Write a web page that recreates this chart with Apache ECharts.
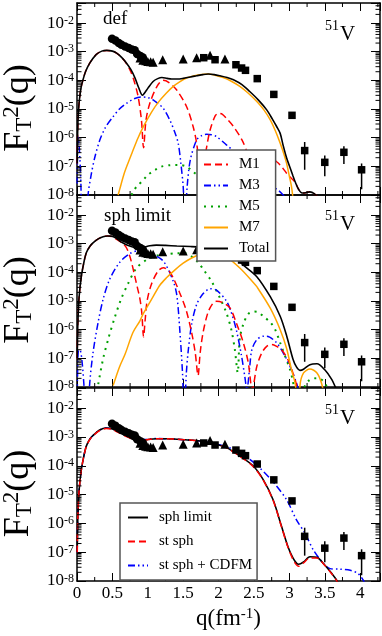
<!DOCTYPE html>
<html><head><meta charset="utf-8">
<script src="https://cdn.jsdelivr.net/npm/echarts@6/dist/echarts.min.js"></script>
<style>html,body{margin:0;padding:0;background:#fff}#c{width:382px;height:636px}</style>
</head><body><div id="c"></div>
<script>
// ---------- DATA (q in fm^-1, values given as log10 of F_T^2) ----------
// Panel 1: deformed
const defTotal = [[0.003,-6.9],[0.007,-6.1],[0.014,-5.4],[0.025,-4.92],[0.04,-4.55],[0.06,-4.22],[0.085,-3.98],[0.12,-3.7],[0.18,-3.4],[0.27,-3.1],[0.35,-2.98],[0.42,-2.955],[0.5,-2.98],[0.56,-3.05],[0.63,-3.2],[0.7,-3.4],[0.76,-3.62],[0.82,-3.92],[0.87,-4.25],[0.925,-4.52],[0.96,-4.42],[1.0,-4.28],[1.075,-4.04],[1.14,-3.94],[1.2,-3.9],[1.27,-3.93],[1.335,-3.955],[1.42,-3.955],[1.5,-3.93],[1.6,-3.88],[1.69,-3.84],[1.78,-3.8],[1.853,-3.78],[1.94,-3.8],[2.02,-3.84],[2.12,-3.9],[2.21,-3.98],[2.33,-4.15],[2.44,-4.39],[2.56,-4.68],[2.68,-5.03],[2.76,-5.35],[2.82,-5.61],[2.87,-5.85],[2.91,-6.25],[2.96,-6.7],[3.01,-7.05],[3.05,-7.33],[3.08,-7.53],[3.13,-7.8],[3.18,-7.93],[3.23,-7.92],[3.29,-7.89],[3.35,-7.95],[3.4,-8.1],[3.45,-8.5]];
const defM1 = [[0.003,-6.9],[0.007,-6.1],[0.014,-5.4],[0.025,-4.92],[0.04,-4.55],[0.06,-4.22],[0.085,-3.98],[0.12,-3.7],[0.18,-3.4],[0.27,-3.1],[0.35,-2.98],[0.42,-2.955],[0.5,-2.98],[0.56,-3.05],[0.63,-3.2],[0.7,-3.42],[0.76,-3.7],[0.81,-4.05],[0.863,-4.56],[0.91,-5.38],[0.94,-6.35],[0.975,-5.38],[1.03,-4.79],[1.13,-4.21],[1.217,-4.0],[1.3,-4.08],[1.406,-4.33],[1.547,-4.91],[1.64,-5.61],[1.69,-6.19],[1.72,-6.9],[1.755,-8.5],[1.79,-7.0],[1.83,-6.35],[1.88,-5.73],[1.95,-5.25],[1.995,-5.15],[2.05,-5.18],[2.12,-5.35],[2.21,-5.61],[2.33,-6.08],[2.4,-6.5],[2.47,-7.2],[2.52,-8.5],[2.58,-7.3],[2.66,-6.85],[2.74,-6.75],[2.82,-6.84],[2.89,-7.01],[2.96,-7.24],[3.02,-7.4],[3.08,-7.55],[3.13,-7.8],[3.18,-7.93],[3.23,-7.92],[3.29,-7.89],[3.35,-7.95],[3.4,-8.1],[3.45,-8.5]];
const defM3 = [[0.003,-7.6],[0.008,-6.4],[0.015,-5.95],[0.025,-6.1],[0.04,-6.7],[0.055,-7.6],[0.07,-9.0],[0.12,-9.5],[0.156,-8.0],[0.2,-7.3],[0.25,-6.7],[0.32,-6.1],[0.4,-5.65],[0.5,-5.3],[0.6,-5.0],[0.7,-4.8],[0.8,-4.65],[0.9,-4.58],[1.0,-4.6],[1.075,-4.68],[1.15,-4.82],[1.217,-4.97],[1.31,-5.38],[1.38,-5.8],[1.43,-6.2],[1.467,-6.89],[1.5,-7.71],[1.525,-9.0],[1.556,-7.71],[1.6,-6.78],[1.69,-6.08],[1.76,-5.93],[1.83,-5.88],[1.9,-5.9],[1.97,-5.96],[2.11,-6.25],[2.3,-6.65],[2.5,-7.05],[2.65,-7.4],[2.77,-7.71],[2.85,-7.85],[2.93,-8.05]];
const defM5 = [[0.77,-8.0],[0.84,-7.71],[0.925,-7.51],[1.0,-7.3],[1.1,-7.13],[1.19,-7.01],[1.31,-6.96],[1.43,-6.95],[1.547,-7.01],[1.64,-7.19],[1.75,-7.4],[1.9,-7.8],[2.05,-8.4]];
const defM7 = [[0.58,-8.0],[0.6,-7.83],[0.66,-7.3],[0.72,-6.89],[0.79,-6.45],[0.86,-6.02],[0.93,-5.65],[0.98,-5.42],[1.06,-5.08],[1.15,-4.76],[1.26,-4.45],[1.36,-4.21],[1.45,-4.05],[1.547,-3.92],[1.64,-3.85],[1.735,-3.8],[1.85,-3.78],[1.95,-3.82],[2.065,-3.9],[2.18,-4.03],[2.3,-4.21],[2.42,-4.45],[2.54,-4.74],[2.64,-5.03],[2.73,-5.38],[2.8,-5.75],[2.87,-6.19],[2.92,-6.55],[2.96,-6.89],[3.0,-7.35],[3.03,-7.71],[3.06,-8.3]];
// Panel 2: spherical limit
const sphTotal = [[0.003,-7.0],[0.008,-6.2],[0.014,-5.65],[0.03,-4.85],[0.062,-4.13],[0.1,-3.62],[0.133,-3.31],[0.18,-3.1],[0.226,-2.97],[0.3,-2.83],[0.368,-2.755],[0.43,-2.73],[0.486,-2.735],[0.55,-2.8],[0.6,-2.9],[0.67,-3.0],[0.745,-3.08],[0.82,-3.14],[0.887,-3.16],[0.95,-3.12],[1.03,-3.07],[1.12,-3.05],[1.25,-3.06],[1.41,-3.08],[1.6,-3.1],[1.75,-3.12],[1.92,-3.16],[2.05,-3.28],[2.21,-3.45],[2.35,-3.75],[2.54,-4.15],[2.73,-4.85],[2.87,-5.53],[2.96,-6.2],[3.05,-7.02],[3.1,-7.3],[3.15,-7.42],[3.2,-7.38],[3.29,-7.22],[3.39,-7.19],[3.5,-7.4],[3.6,-7.74],[3.645,-7.98],[3.7,-8.3]];
const sphM1 = [[0.003,-7.0],[0.008,-6.2],[0.014,-5.65],[0.03,-4.85],[0.062,-4.13],[0.1,-3.62],[0.133,-3.31],[0.18,-3.1],[0.226,-2.97],[0.3,-2.83],[0.368,-2.755],[0.43,-2.73],[0.49,-2.75],[0.56,-2.85],[0.65,-3.0],[0.7,-3.15],[0.745,-3.43],[0.78,-3.75],[0.816,-4.13],[0.85,-4.5],[0.887,-4.9],[0.915,-5.4],[0.94,-6.25],[0.965,-5.6],[0.99,-5.0],[1.05,-4.42],[1.146,-3.95],[1.22,-3.84],[1.3,-3.95],[1.37,-4.25],[1.45,-4.71],[1.54,-5.3],[1.62,-6.11],[1.67,-6.8],[1.71,-7.6],[1.74,-6.8],[1.78,-6.11],[1.85,-5.4],[1.92,-5.08],[1.97,-5.01],[2.05,-5.05],[2.16,-5.24],[2.25,-5.76],[2.35,-6.46],[2.42,-7.16],[2.475,-8.1],[2.54,-7.28],[2.61,-6.81],[2.68,-6.58],[2.75,-6.52],[2.82,-6.58],[2.89,-6.7],[2.98,-7.05],[3.05,-7.51],[3.1,-7.92],[3.14,-8.5]];
const sphM3 = [[0.004,-8.3],[0.012,-7.1],[0.025,-6.7],[0.05,-6.75],[0.075,-7.2],[0.1,-8.0],[0.14,-9.5],[0.18,-7.86],[0.226,-6.81],[0.297,-5.76],[0.368,-4.95],[0.46,-4.25],[0.6,-3.66],[0.745,-3.35],[0.86,-3.25],[0.95,-3.27],[1.05,-3.35],[1.22,-3.61],[1.36,-4.31],[1.41,-4.8],[1.45,-5.94],[1.49,-7.5],[1.515,-9.0],[1.545,-7.5],[1.57,-6.76],[1.62,-5.8],[1.69,-5.12],[1.78,-4.75],[1.88,-4.57],[1.97,-4.62],[2.11,-5.0],[2.18,-5.4],[2.25,-6.0],[2.325,-6.93],[2.37,-7.63],[2.4,-8.1],[2.44,-7.28],[2.47,-6.7],[2.54,-6.35],[2.63,-6.23],[2.68,-6.23],[2.82,-6.46],[2.94,-6.93],[3.03,-7.4],[3.1,-7.86],[3.15,-8.3]];
const sphM5 = [[0.3,-7.9],[0.37,-7.0],[0.45,-6.25],[0.53,-5.6],[0.62,-4.95],[0.72,-4.4],[0.84,-3.85],[0.99,-3.55],[1.12,-3.42],[1.26,-3.37],[1.4,-3.33],[1.52,-3.33],[1.62,-3.45],[1.71,-3.65],[1.8,-3.95],[1.9,-4.31],[2.02,-4.9],[2.11,-5.41],[2.18,-6.0],[2.23,-6.7],[2.27,-7.5],[2.3,-6.3],[2.35,-5.8],[2.42,-5.45],[2.5,-5.37],[2.56,-5.39],[2.63,-5.53],[2.73,-5.74],[2.8,-6.0],[2.87,-6.46],[2.94,-6.93],[3.01,-7.4],[3.05,-7.8],[3.09,-8.4],[3.12,-9.0],[3.22,-7.95],[3.29,-7.75],[3.39,-7.69],[3.48,-7.8],[3.55,-8.1]];
const sphM7 = [[0.51,-7.95],[0.6,-7.3],[0.68,-6.85],[0.79,-6.1],[0.887,-5.7],[0.934,-5.45],[1.075,-4.85],[1.17,-4.45],[1.26,-4.2],[1.38,-3.92],[1.5,-3.68],[1.62,-3.5],[1.735,-3.37],[1.83,-3.29],[1.9,-3.28],[2.0,-3.33],[2.11,-3.45],[2.3,-3.85],[2.49,-4.35],[2.54,-4.5],[2.73,-5.25],[2.87,-6.0],[2.96,-6.65],[3.03,-7.4],[3.08,-7.86],[3.11,-8.6],[3.12,-10],[3.15,-7.95],[3.2,-7.51],[3.29,-7.37],[3.39,-7.51],[3.46,-7.92],[3.5,-8.5]];
// Panel 3: comparison
const cmpSph = [[0.003,-7.0],[0.008,-6.2],[0.014,-5.65],[0.03,-4.85],[0.062,-4.13],[0.1,-3.62],[0.133,-3.31],[0.18,-3.08],[0.226,-2.95],[0.32,-2.76],[0.41,-2.69],[0.5,-2.72],[0.557,-2.79],[0.63,-2.88],[0.7,-2.97],[0.77,-3.06],[0.84,-3.13],[0.9,-3.14],[0.98,-3.1],[1.12,-3.06],[1.25,-3.06],[1.41,-3.08],[1.6,-3.11],[1.735,-3.14],[1.92,-3.24],[2.11,-3.37],[2.3,-3.66],[2.49,-4.01],[2.63,-4.48],[2.77,-5.18],[2.89,-6.11],[2.98,-6.81],[3.05,-7.2],[3.1,-7.38],[3.13,-7.42],[3.2,-7.34],[3.29,-7.16],[3.39,-7.18],[3.48,-7.39],[3.6,-7.74],[3.67,-7.98],[3.72,-8.3]];
const cmpSt = [[0.003,-7.0],[0.008,-6.2],[0.014,-5.65],[0.03,-4.85],[0.062,-4.13],[0.1,-3.63],[0.133,-3.32],[0.18,-3.09],[0.226,-2.96],[0.32,-2.78],[0.41,-2.71],[0.5,-2.74],[0.557,-2.81],[0.63,-2.9],[0.7,-2.99],[0.77,-3.07],[0.84,-3.13],[0.9,-3.14],[0.98,-3.1],[1.12,-3.06],[1.25,-3.06],[1.41,-3.08],[1.6,-3.11],[1.735,-3.14],[1.92,-3.24],[2.11,-3.38],[2.3,-3.67],[2.49,-4.03],[2.63,-4.5],[2.77,-5.2],[2.89,-6.13],[2.98,-6.83],[3.05,-7.25],[3.1,-7.44],[3.13,-7.49],[3.16,-7.44],[3.2,-7.37],[3.29,-7.2],[3.39,-7.2],[3.48,-7.4],[3.6,-7.76],[3.67,-8.0],[3.72,-8.3]];
const cmpCdfm = [[0.003,-7.0],[0.008,-6.2],[0.014,-5.65],[0.03,-4.85],[0.062,-4.13],[0.1,-3.62],[0.133,-3.31],[0.18,-3.08],[0.226,-2.95],[0.32,-2.76],[0.41,-2.69],[0.5,-2.72],[0.557,-2.78],[0.63,-2.86],[0.7,-2.95],[0.77,-3.03],[0.84,-3.09],[0.9,-3.1],[0.98,-3.08],[1.12,-3.05],[1.25,-3.06],[1.41,-3.08],[1.6,-3.11],[1.735,-3.14],[1.92,-3.22],[2.11,-3.34],[2.3,-3.54],[2.54,-3.98],[2.77,-4.56],[2.96,-5.18],[3.1,-5.88],[3.22,-6.34],[3.34,-6.93],[3.48,-7.39],[3.575,-7.57],[3.715,-7.59],[3.86,-7.63],[3.97,-7.74],[4.045,-7.98],[4.1,-8.3]];
// Experimental points (same in all panels)
const expCircles = [[0.495,-2.545],[0.543,-2.61],[0.59,-2.7],[0.628,-2.76],[0.68,-2.82],[0.73,-2.87],[0.775,-2.92],[0.815,-2.95],[0.85,-3.08],[0.895,-3.15],[0.93,-3.2]];
const expTriangles = [[0.89,-3.22],[0.93,-3.3],[0.97,-3.32],[1.0,-3.34],[1.04,-3.35],[1.075,-3.37],[1.21,-3.28],[1.5,-3.255],[1.69,-3.21],[1.88,-3.12],[2.09,-3.255]];
const expSquares = [[1.79,-3.21],[1.95,-3.28],[2.245,-3.455],[2.325,-3.57],[2.38,-3.65],[2.546,-3.94],[2.78,-4.49],[3.037,-5.22],[3.216,-6.45],[3.5,-6.86],[3.77,-6.51],[4.02,-7.12]];
const expErrors = [[3.216,-7.12,-6.15],[3.5,-7.35,-6.62],[3.77,-6.92,-6.3],[4.02,-7.8,-6.9]];
// Axis ticks
const xTickLabels = ['0','0.5','1','1.5','2','2.5','3','3.5','4'];
const xMinorTicks = [0.25,0.75,1.25,1.75,2.25,2.75,3.25,3.75,4.25];
const yDecades = [-9,-8,-7,-6,-5,-4,-3,-2];
const yMinorMantissas = [2,3,4,5,6,7,8,9];

// ---------- CHART ----------
const X_MIN = 0, X_MAX = 4.28, Y_MIN = 1e-8, Y_MAX = 0.05;
const FONT = '"Liberation Serif","Times New Roman",serif';
const RED = '#ff0000', BLUE = '#0000ff', GREEN = '#00a000', ORANGE = '#ffa500';
const DASH = [7, 4], DASHDOT = [7, 3, 1.5, 3, 1.5, 3], DOT = [2, 5];
const toF = p => [p[0], Math.pow(10, p[1])];
const yMinorVals = [];
yDecades.forEach(d => yMinorMantissas.forEach(m => { const v = m * Math.pow(10, d); if (v > Y_MIN && v < Y_MAX) yMinorVals.push(v); }));

const grids = [
  {left: 77, right: 2, top: 3, height: 192, outerBoundsMode: 'none', containLabel: false},
  {left: 77, right: 2, top: 195, height: 192, outerBoundsMode: 'none', containLabel: false},
  {left: 77, right: 2, top: 388, height: 193, outerBoundsMode: 'none', containLabel: false}
];
const xAxes = [], yAxes = [], series = [];
const axisLine = {show: true, onZero: false, lineStyle: {color: '#000', width: 1.5}};
grids.forEach((g, i) => {
  const base = {gridIndex: i, type: 'value', min: X_MIN, max: X_MAX, interval: 0.5,
    axisLine, splitLine: {show: false},
    axisTick: {show: true, inside: true, length: 8, lineStyle: {color: '#000', width: 1}}};
  xAxes.push(Object.assign({}, base, {position: 'bottom',
    axisLabel: {show: i === 2, margin: 4, color: '#000', fontFamily: FONT, fontSize: 17,
      formatter: v => { const k = Math.round(v * 2); return (Math.abs(v * 2 - k) < 1e-6 && k < xTickLabels.length) ? xTickLabels[k] : ''; }},
    name: i === 2 ? '{a|q(fm}{s|-1}{a|)}' : '', nameLocation: 'middle', nameGap: 26,
    nameTextStyle: {rich: {a: {fontFamily: FONT, fontSize: 23, color: '#000'}, s: {fontFamily: FONT, fontSize: 15, color: '#000', verticalAlign: 'top'}}}
  }));
  xAxes.push(Object.assign({}, base, {position: 'top', axisLabel: {show: false}}));
  const ybase = {gridIndex: i, type: 'log', logBase: 10, min: Y_MIN, max: Y_MAX,
    axisLine, splitLine: {show: false}, minorTick: {show: false},
    axisTick: {show: true, inside: true, length: 9, lineStyle: {color: '#000', width: 1}}};
  yAxes.push(Object.assign({}, ybase, {position: 'left',
    axisLabel: {margin: 3, color: '#000',
      formatter: v => { const l = Math.log10(v); const e = Math.round(l); return Math.abs(l - e) > 0.01 ? '' : '{b|10}{s|' + e + '}'; },
      rich: {b: {fontFamily: FONT, fontSize: 17, color: '#000'}, s: {fontFamily: FONT, fontSize: 12, color: '#000', verticalAlign: 'top'}}},
    name: '{F|F}{T|T}{s|2}{F|(q)}', nameLocation: 'middle', nameRotate: 90, nameGap: 37,
    nameTextStyle: {padding: [0, 18, 0, 0], rich: {F: {fontFamily: FONT, fontSize: 36, color: '#000'}, T: {fontFamily: FONT, fontSize: 23, color: '#000', verticalAlign: 'bottom'}, s: {fontFamily: FONT, fontSize: 23, color: '#000', verticalAlign: 'top'}}}
  }));
  yAxes.push(Object.assign({}, ybase, {position: 'right', axisLabel: {show: false}}));

  // minor ticks (y: left/right edges, x: top/bottom edges)
  series.push({type: 'custom', xAxisIndex: 2 * i, yAxisIndex: 2 * i, silent: true, z: 5,
    data: yMinorVals.map(v => [X_MIN, v]), encode: {x: 0, y: 1},
    renderItem: (p, api) => { const v = api.value(1); const l = api.coord([X_MIN, v]); const r = api.coord([X_MAX, v]);
      return {type: 'group', children: [
        {type: 'line', shape: {x1: l[0], y1: l[1], x2: l[0] + 4.5, y2: l[1]}, style: {stroke: '#000', lineWidth: 1}},
        {type: 'line', shape: {x1: r[0] - 4.5, y1: r[1], x2: r[0], y2: r[1]}, style: {stroke: '#000', lineWidth: 1}}]}; }});
  series.push({type: 'custom', xAxisIndex: 2 * i, yAxisIndex: 2 * i, silent: true, z: 5,
    data: xMinorTicks.map(q => [q, Y_MIN]), encode: {x: 0, y: 1},
    renderItem: (p, api) => { const q = api.value(0); const b = api.coord([q, Y_MIN]); const t = api.coord([q, Y_MAX]);
      return {type: 'group', children: [
        {type: 'line', shape: {x1: b[0], y1: b[1], x2: b[0], y2: b[1] - 4}, style: {stroke: '#000', lineWidth: 1}},
        {type: 'line', shape: {x1: t[0], y1: t[1], x2: t[0], y2: t[1] + 4}, style: {stroke: '#000', lineWidth: 1}}]}; }});
});

function addLine(g, name, pts, color, type, width) {
  series.push({name, type: 'line', xAxisIndex: 2 * g, yAxisIndex: 2 * g, data: pts.map(toF),
    symbol: 'none', showSymbol: false, smooth: 0.3, clip: true, silent: true, z: 2,
    lineStyle: {color, width, type}, itemStyle: {color}});
}
addLine(0, 'M5', defM5, GREEN, DOT, 2);
addLine(0, 'M3', defM3, BLUE, DASHDOT, 1.5);
addLine(0, 'M1', defM1, RED, DASH, 1.5);
addLine(0, 'M7', defM7, ORANGE, 'solid', 1.5);
addLine(0, 'Total', defTotal, '#000', 'solid', 1.6);
addLine(1, 'M5', sphM5, GREEN, DOT, 2);
addLine(1, 'M3', sphM3, BLUE, DASHDOT, 1.5);
addLine(1, 'M1', sphM1, RED, DASH, 1.5);
addLine(1, 'M7', sphM7, ORANGE, 'solid', 1.5);
addLine(1, 'Total', sphTotal, '#000', 'solid', 1.6);
addLine(2, 'st sph + CDFM', cmpCdfm, BLUE, DASHDOT, 1.5);
addLine(2, 'sph limit', cmpSph, '#000', 'solid', 1.6);
addLine(2, 'st sph', cmpSt, RED, DASH, 1.5);

[0, 1, 2].forEach(g => {
  const sc = (data, symbol, size) => ({type: 'scatter', xAxisIndex: 2 * g, yAxisIndex: 2 * g, data: data.map(toF),
    symbol, symbolSize: size, itemStyle: {color: '#000', opacity: 1}, silent: true, z: 3});
  series.push({type: 'custom', xAxisIndex: 2 * g, yAxisIndex: 2 * g, silent: true, z: 3,
    data: expErrors.map(e => [e[0], Math.pow(10, e[1]), Math.pow(10, e[2])]), encode: {x: 0, y: [1, 2]},
    renderItem: (p, api) => { const lo = api.coord([api.value(0), api.value(1)]); const hi = api.coord([api.value(0), api.value(2)]);
      return {type: 'line', shape: {x1: lo[0], y1: lo[1], x2: hi[0], y2: hi[1]}, style: {stroke: '#000', lineWidth: 1.5}}; }});
  series.push(sc(expCircles, 'circle', 8.5));
  series.push(sc(expTriangles, 'triangle', 9));
  series.push(sc(expSquares, 'rect', 7.5));
});

const legendText = {fontFamily: FONT, fontSize: 15, color: '#000', padding: [0, 0, 0, 6]};
const option = {
  animation: false,
  grid: grids,
  xAxis: xAxes,
  yAxis: yAxes,
  legend: [
    {data: ['M1', 'M3', 'M5', 'M7', 'Total'], orient: 'vertical', left: 197, top: 150,
      itemWidth: 24, itemHeight: 10, itemGap: 6, padding: [7, 6, 5, 6], selectedMode: false,
      itemStyle: {opacity: 0},
      backgroundColor: '#fff', borderColor: '#555', borderWidth: 1.5, borderRadius: 0, textStyle: legendText, z: 10},
    {data: ['sph limit', 'st sph', 'st sph + CDFM'], orient: 'vertical', left: 120, top: 503,
      itemWidth: 20, itemHeight: 10, itemGap: 9, padding: [7, 5, 7, 7], selectedMode: false,
      itemStyle: {opacity: 0},
      backgroundColor: '#fff', borderColor: '#555', borderWidth: 1.5, borderRadius: 0, textStyle: legendText, z: 10}
  ],
  graphic: [
    {type: 'text', left: 103, top: 10, z: 20, style: {text: 'def', font: '19px ' + FONT, fill: '#000'}},
    {type: 'text', left: 104, top: 207, z: 20, style: {text: 'sph limit', font: '19px ' + FONT, fill: '#000'}},
    {type: 'text', left: 325, top: 19, z: 20, style: {text: '51', font: '14px ' + FONT, fill: '#000'}},
    {type: 'text', left: 340, top: 24, z: 20, style: {text: 'V', font: '21px ' + FONT, fill: '#000'}},
    {type: 'text', left: 325, top: 209, z: 20, style: {text: '51', font: '14px ' + FONT, fill: '#000'}},
    {type: 'text', left: 340, top: 214, z: 20, style: {text: 'V', font: '21px ' + FONT, fill: '#000'}},
    {type: 'text', left: 325, top: 403, z: 20, style: {text: '51', font: '14px ' + FONT, fill: '#000'}},
    {type: 'text', left: 340, top: 408, z: 20, style: {text: 'V', font: '21px ' + FONT, fill: '#000'}}
  ],
  series
};
const chart = echarts.init(document.getElementById('c'), null, {renderer: 'canvas'});
chart.setOption(option);
</script></body></html>
